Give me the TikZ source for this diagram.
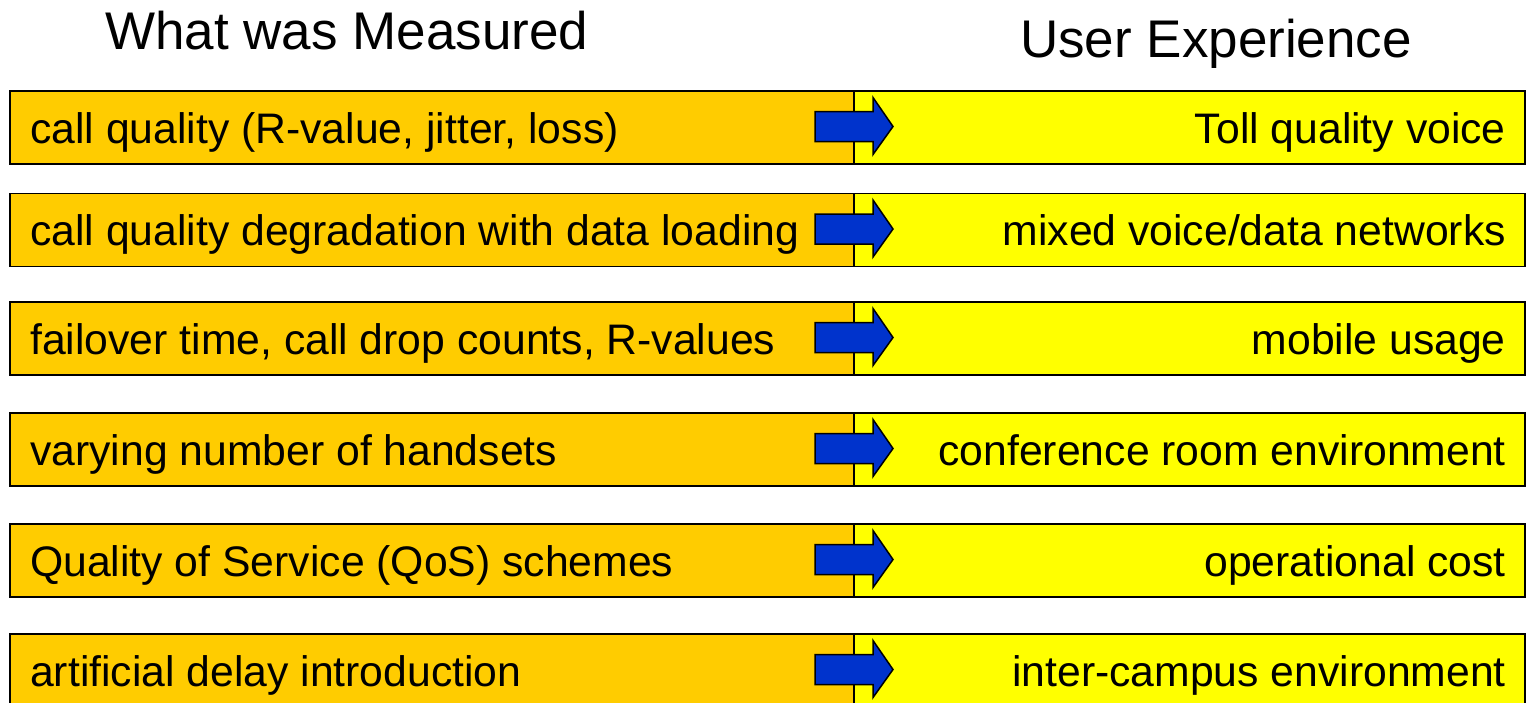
\documentclass[tikz,border=0pt]{standalone}
\usepackage{fontspec}
\setmainfont{Liberation Sans}
\definecolor{measorange}{RGB}{255,204,0}
\definecolor{uxyellow}{RGB}{255,255,0}
\definecolor{arrowblue}{RGB}{0,51,204}
\begin{document}
\begin{tikzpicture}[x=1pt,y=-1pt,
  leftbox/.style={draw=black,line width=1.6pt,fill=measorange,minimum width=844pt,minimum height=73pt,anchor=north west,inner sep=0pt},
  rightbox/.style={draw=black,line width=1.6pt,fill=uxyellow,minimum width=671pt,minimum height=73pt,anchor=north west,inner sep=0pt},
  rowtext/.style={font=\fontsize{42.7}{50}\selectfont,inner sep=0pt},
  titletext/.style={font=\fontsize{53}{60}\selectfont,inner sep=0pt,anchor=base west},
  bluearrow/.style={draw=black,line width=1.5pt,fill=arrowblue,line join=miter}]
\useasboundingbox (0,0) rectangle (1527,702);
\clip (0,0) rectangle (1527,702);
\fill[white] (0,0) rectangle (1527,702);
\node[titletext] (t1) at (105,49) {What was Measured};
\node[titletext] (t2) at (1020,57) {User Experience};
\foreach \i/\top/\lt/\rt in {
  0/90/{call quality (R-value, jitter, loss)}/{Toll quality voice},
  1/192.5/{call quality degradation with data loading}/{mixed voice/data networks},
  2/301/{failover time, call drop counts, R-values}/{mobile usage},
  3/412/{varying number of handsets}/{conference room environment},
  4/523/{Quality of Service (QoS) schemes}/{operational cost},
  5/633/{artificial delay introduction}/{inter-campus environment}} {
  \pgfmathsetmacro{\c}{\top+36.5}
  \node[leftbox] (L\i) at (9,\top) {};
  \node[rightbox] (R\i) at (853,\top) {};
  \node[rowtext,anchor=base west] (LT\i) at (30,\c+16.5) {\lt};
  \node[rowtext,anchor=base east] (RT\i) at (1506,\c+16.5) {\rt};
  \draw[bluearrow] (815,\c-15) -- (873,\c-15) -- (873,\c-29) -- (893,\c) -- (873,\c+28) -- (873,\c+15) -- (815,\c+15) -- cycle;
}
\end{tikzpicture}
\end{document}
